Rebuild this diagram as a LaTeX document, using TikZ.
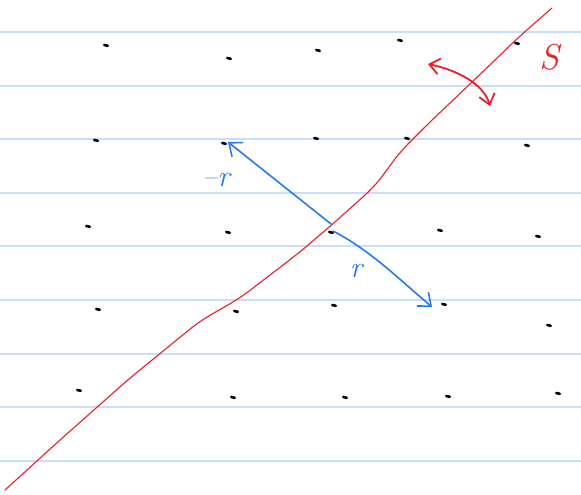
\documentclass[tikz,border=0pt]{standalone}
\usetikzlibrary{arrows.meta}
\definecolor{ruled}{RGB}{200,222,250}
\definecolor{penred}{RGB}{232,30,40}
\definecolor{penblue}{RGB}{40,120,245}
\begin{document}
\begin{tikzpicture}[x=1pt,y=-1pt,
  ruleline/.style={ruled,line width=1.6pt},
  dotmark/.style={line width=2.6pt,line cap=round},
  redpen/.style={penred,line width=1.1pt,line cap=round,line join=round},
  bluepen/.style={penblue,line width=1.6pt,line cap=round,line join=round},
  tip/.style={-{Straight Barb[length=11pt,width=18pt,line width=1.6pt]}},
  lbl/.style={inner sep=0pt}]
\useasboundingbox (0,0) rectangle (581,495);
\fill[white] (0,0) rectangle (581,495);
% ruled lines
\foreach \y in {32,86,139,193,246,300,354,407,461}
  \draw[ruleline] (0,\y) -- (581,\y);
% lattice points
\foreach \x/\y in {106/45,229/58,318/50,400/40,517/43,
                   96/140,224/143,316/138,407/138,527/145,
                   88/226,228/232,331/232,440/230,538/236,
                   98/309,236/311,334/305,444/304,549/325,
                   79/390,233/397,345/397,448/396,558/393}
  \draw[dotmark] (\x-1.8,\y) -- (\x+1.8,\y+0.8);
% coordinates
\coordinate (o) at (331,224);
\coordinate (o2) at (333,231);
\coordinate (a) at (228,142);
\coordinate (b) at (432,307);
\coordinate (s1) at (428,64);
\coordinate (s2) at (490,106);
% red mirror line
\draw[redpen,rounded corners=12pt] (5,490) -- (60,440) -- (130,378) -- (200,321) -- (240,298)
  -- (300,252) -- (335,222) -- (375,186) -- (400,152) -- (430,122)
  -- (470,84) -- (520,36) -- (552,8);
% red double arrow
\draw[redpen,line width=1.8pt,{Straight Barb[length=10pt,width=16pt,line width=1.8pt]}-{Straight Barb[length=10pt,width=16pt,line width=1.8pt]}]
  (s1) .. controls (465,72) and (485,88) .. (s2);
\node[lbl,penred,font=\fontsize{36}{38}\selectfont\itshape] (S) at (549,57) {S};
% blue vectors
\draw[bluepen,tip] (o) -- (a);
\draw[bluepen,tip] (o2) .. controls (370,250) and (400,280) .. (b);
\node[lbl,penblue,font=\fontsize{30}{32}\selectfont\itshape] (mr) at (216,180) {–r};
\node[lbl,penblue,font=\fontsize{30}{32}\selectfont\itshape] (r) at (356,271) {r};
\end{tikzpicture}
\end{document}
